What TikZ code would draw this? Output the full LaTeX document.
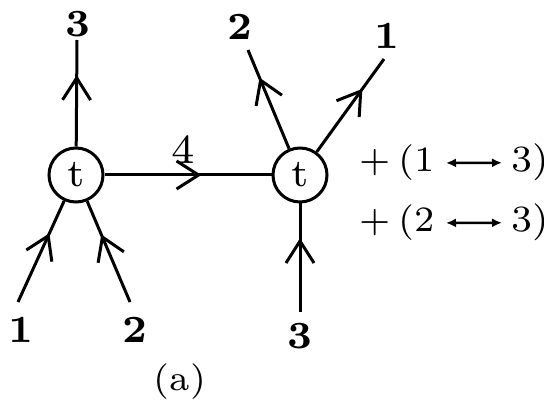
\documentclass[tikz,border=0pt]{standalone}
\usepackage{graphicx}
\usepackage{tikz}
\usetikzlibrary{arrows.meta,decorations.markings}
% small optical size, blown up: heavier strokes like the original
\newcommand{\fat}[2]{\scalebox{#1}{\fontsize{7}{8}\selectfont #2}}

\begin{document}
\begin{tikzpicture}[
  x=1pt,y=-1pt,
  line width=3pt,
  vtx/.style={draw,circle,minimum size=54pt,inner sep=0pt,line width=3pt},
  lbl/.style={inner sep=0pt},
  leg/.style={postaction={decorate},decoration={markings,
    mark=at position #1 with {\arrow{Straight Barb[length=22pt,width=28pt]}}}},
  leg/.default=0.68,
  swap/.style={{Latex[length=10pt,width=9pt]}-{Latex[length=10pt,width=9pt]},line width=2.4pt,shorten <=10pt,shorten >=8pt}]
\useasboundingbox (0,0) rectangle (544,409);
% the two vertices
\node[vtx] (tl) at (76,175) {\fat{5.6}{t}};
\node[vtx] (tr) at (300,175) {\fat{5.6}{t}};
% free ends of the legs
\coordinate (e3) at (77,40);
\coordinate (e1) at (18,302);
\coordinate (e2) at (130,302);
\coordinate (f2) at (248,50);
\coordinate (f1) at (384,59);
\coordinate (f3) at (300,312);
\draw[leg=0.67] (tl) -- (e3);
\draw[leg] (e1) -- (tl);
\draw[leg=0.67] (e2) -- (tl);
\draw[leg=0.58] (tl) -- node[above=10pt,pos=0.47,inner sep=0pt]{\fat{5.9}{4}} (tr);
\draw[leg=0.72] (tr) -- (f2);
\draw[leg] (tr) -- (f1);
\draw[leg] (f3) -- (tr);
% leg labels
\node[lbl] (n3) at (78,24) {\fat{5.5}{\bfseries 3}};
\node[lbl] (n1) at (21,330) {\fat{5.5}{\bfseries 1}};
\node[lbl] (n2) at (135,330) {\fat{5.5}{\bfseries 2}};
\node[lbl] (m2) at (240,27) {\fat{5.5}{\bfseries 2}};
\node[lbl] (m1) at (387,36) {\fat{5.5}{\bfseries 1}};
\node[lbl] (m3) at (300,336) {\fat{5.5}{\bfseries 3}};
\node[lbl] (cap) at (180,382) {\fat{5.1}{(a)}};
% exchange terms
\node[anchor=base east,inner sep=0pt] (p1) at (436,172) {\fat{5.1}{+\hspace{0.22em}(1}};
\node[anchor=base west,inner sep=0pt] (q1) at (510,172) {\fat{5.3}{3)}};
\node[anchor=base east,inner sep=0pt] (p2) at (436,232) {\fat{5.1}{+\hspace{0.22em}(2}};
\node[anchor=base west,inner sep=0pt] (q2) at (510,232) {\fat{5.3}{3)}};
\draw[swap] (p1) -- (q1);
\draw[swap] (p2) -- (q2);
\end{tikzpicture}
\end{document}
